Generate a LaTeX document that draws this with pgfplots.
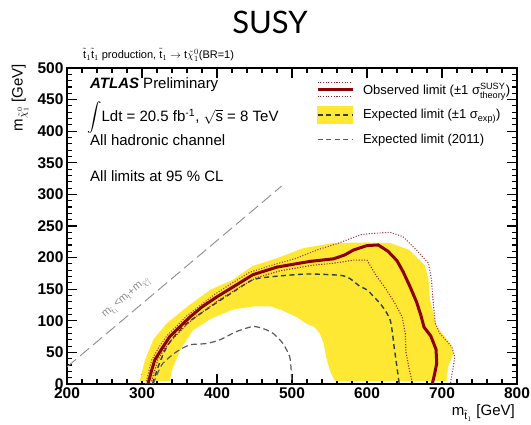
\documentclass[border=0pt]{standalone}
\usepackage{pgfplots}
\pgfplotsset{compat=1.18}
\usepackage{amsmath}
\usepackage{fontspec}
\setmainfont{Liberation Sans}
\newfontfamily\titlefont{Lato}
\definecolor{bandyellow}{RGB}{255,232,51}
\definecolor{obsred}{RGB}{140,0,0}
\definecolor{obsdot}{RGB}{160,30,40}
\definecolor{expdark}{RGB}{45,60,75}
\definecolor{grey2011}{RGB}{90,90,90}
\definecolor{diaggrey}{RGB}{140,140,140}
\begin{document}
\begin{tikzpicture}
\useasboundingbox (-67pt,-41pt) rectangle (464pt,384pt);
\begin{axis}[
  at={(0pt,0pt)}, anchor=south west,
  scale only axis, width=450pt, height=316pt,
  xmin=200, xmax=800, ymin=0, ymax=500,
  xtick={200,300,...,800}, ytick={0,50,...,500},
  minor x tick num=4, minor y tick num=4,
  tick align=inside, tick pos=both,
  xticklabel pos=lower, yticklabel pos=left,
  major tick length=10pt, minor tick length=5pt,
  axis line style={line width=1.4pt},
  every tick/.style={black, line width=1.1pt},
  tick label style={font=\bfseries\fontsize{15.5}{15.5}\selectfont},
  /pgf/number format/assume math mode=true,
  scaled ticks=false,
  legend style={at={(0.553,0.958)}, anchor=north west, draw=none, fill=none,
    font=\fontsize{13}{14}\selectfont, row sep=8.5pt, inner sep=0pt,
    /tikz/every odd column/.append style={column sep=7pt}},
  legend cell align=left,
]
% legend entries
\addlegendimage{legend image code/.code={
  \draw[obsdot, line width=1.1pt, dash pattern=on 1.1pt off 1.6pt] (0pt,7pt) -- (35pt,7pt);
  \draw[obsred, line width=3pt] (0pt,0pt) -- (35pt,0pt);
  \draw[obsdot, line width=1.1pt, dash pattern=on 1.1pt off 1.6pt] (0pt,-7pt) -- (35pt,-7pt);}}
\addlegendentry{Observed limit (±1 σ$^{\text{SUSY}}_{\text{theory}}$)}
\addlegendimage{legend image code/.code={
  \fill[bandyellow] (0pt,-8.5pt) rectangle (35pt,8.5pt);
  \draw[expdark, line width=1.4pt, dash pattern=on 5pt off 3.5pt] (0pt,0pt) -- (35pt,0pt);}}
\addlegendentry{Expected limit (±1 σ$_{\text{exp)}}$)}
\addlegendimage{legend image code/.code={
  \draw[grey2011, line width=1.2pt, dash pattern=on 5pt off 3.5pt] (0pt,0pt) -- (35pt,0pt);}}
\addlegendentry{Expected limit (2011)}

% yellow band (expected +-1 sigma)
\addplot[fill=bandyellow, draw=none, forget plot] coordinates {
 (297,5) (304,38) (315,70) (333,96) (360,122) (391,149) (421,165) (448,187)
 (480,199) (515,215) (555,223) (600,224) (631,223) (657,212) (677,188)
 (682,165) (684,133) (693,91) (711,64) (715,48) (708,27) (706,5)
 (557,5) (551,20) (546,40) (542,65) (537,80) (530,90) (520,95) (506,106)
 (486,117) (471,123) (450,123) (422,118) (393,104) (368,85) (351,54)
 (340,22) (337,5) (297,5)
};

% diagonal kinematic limit
\addplot[diaggrey, line width=0.9pt, dash pattern=on 12pt off 5pt, forget plot]
 coordinates {(200,27) (486,313)};

% expected 2011
\addplot[grey2011, line width=1.2pt, dash pattern=on 6pt off 3.5pt, forget plot, smooth, tension=0.4] coordinates {
 (315,0) (320,15) (328,33) (346,51) (364,62) (386,64) (404,70) (426,83)
 (448,91) (463,87) (475,80) (488,64) (497,43) (499,20) (500,0)
};

% expected limit
\addplot[expdark, line width=1.4pt, dash pattern=on 5pt off 3.5pt, forget plot, smooth, tension=0.4] coordinates {
 (314,0) (318,15) (324,35) (333,59) (345,78) (360,96) (391,122) (422,146)
 (448,165) (475,170) (520,174) (564,172) (577,167) (591,154) (600,149)
 (617,128) (625,115) (631,101) (634,80) (636,60) (639,35) (643,0)
};

% observed -1 sigma theory
\addplot[obsdot, line width=1.1pt, dash pattern=on 1.1pt off 1.6pt, forget plot] coordinates {
 (312,0) (316,18) (321,38) (330,56) (341,72) (368,103) (404,134) (426,150)
 (452,168) (484,179) (528,188) (555,191) (582,196) (600,196) (612,172)
 (626,149) (637,128) (647,106) (651,80) (652,50) (656,25) (661,0)
};

% observed +1 sigma theory
\addplot[obsdot!85, line width=1.1pt, dash pattern=on 1.1pt off 1.6pt, forget plot] coordinates {
 (305,0) (309,20) (313,38) (322,57) (333,76) (360,108) (396,141) (418,158)
 (444,177) (476,189) (506,199) (533,212) (560,222) (591,236) (604,238)
 (631,240) (648,233) (666,212) (682,191) (686,165) (688,133) (691,96)
 (697,80) (713,59) (717,43) (715,27) (711,0)
};

% observed limit
\addplot[obsred, line width=3pt, forget plot] coordinates {
 (308,0) (312,18) (317,38) (326,55) (337,75) (350,90) (364,106) (380,122)
 (400,138) (422,154) (448,173) (480,185) (524,194) (555,198) (570,204)
 (582,212) (600,219) (615,220) (628,210) (640,195) (648,178) (657,155)
 (666,130) (672,108) (676,90) (685,76) (692,55) (693,33) (690,15) (687,0)
};
\end{axis}

% texts
\node[font=\titlefont\fontsize{31}{31}\selectfont] at (203pt,362pt) {SUSY};
\node[anchor=west, font=\fontsize{11}{12}\selectfont, inner sep=0pt] at (16pt,329pt)
 {$\tilde{\text{t}}_{1}\tilde{\text{t}}_{1}$ production, $\tilde{\text{t}}_{1}\rightarrow \text{t}\tilde{\chi}^{0}_{1}$(BR=1)};
\node[anchor=west, font=\fontsize{15}{16}\selectfont, inner sep=0pt] at (23pt,299pt)
 {\textbf{\textit{ATLAS}} Preliminary};
\node[anchor=west, font=\fontsize{15}{16}\selectfont, inner sep=0pt] at (20pt,266pt)
 {$\displaystyle\int$Ldt = 20.5 fb$^{\text{-1}}$, $\sqrt{\text{s}}$ = 8 TeV};
\node[anchor=west, font=\fontsize{15}{16}\selectfont, inner sep=0pt] at (23pt,244pt)
 {All hadronic channel};
\node[anchor=west, font=\fontsize{15}{16}\selectfont, inner sep=0pt] at (23pt,208pt)
 {All limits at 95 \% CL};
\node[rotate=40, text=diaggrey, font=\fontsize{11}{12}\selectfont, inner sep=0pt] at (60pt,86pt)
 {$\text{m}_{\tilde{\text{t}}_{1}}$<m$_{\text{t}}$+m$_{\tilde{\chi}^{0}_{1}}$};
\node[rotate=90, anchor=east, font=\fontsize{15}{16}\selectfont, inner sep=0pt] at (-47pt,320pt)
 {m$_{\tilde{\chi}^{0}_{1}}$ [GeV]};
\node[anchor=east, font=\fontsize{15}{16}\selectfont, inner sep=0pt] at (448pt,-29pt)
 {m$_{\tilde{\text{t}}_{1}}$ [GeV]};
\end{tikzpicture}
\end{document}
